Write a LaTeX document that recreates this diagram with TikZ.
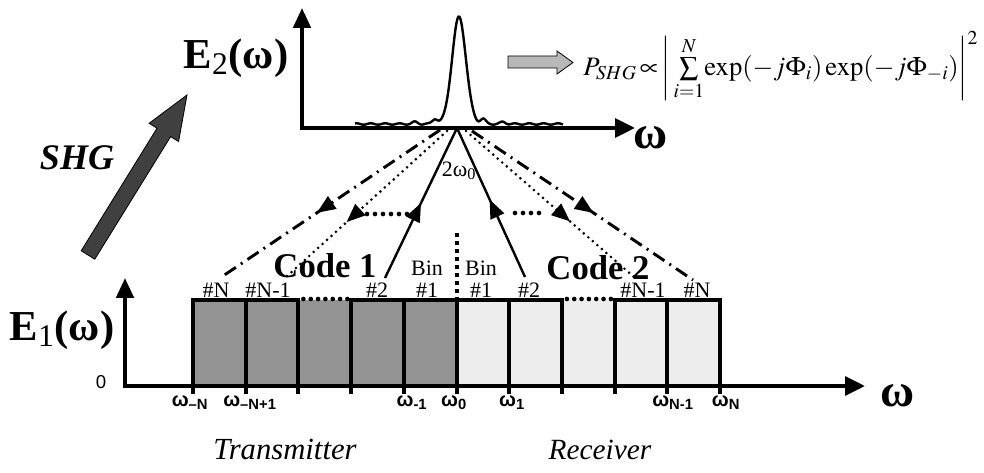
\documentclass[tikz,border=0pt]{standalone}
\usepackage{mathptmx}
\usepackage{fontspec}
\setmainfont{Liberation Serif}
\newfontfamily\arialfont{Liberation Sans}
\usetikzlibrary{positioning,arrows.meta,calc,decorations.markings}

\begin{document}
\begin{tikzpicture}[x=0.75pt,y=-0.75pt,
axis/.style={line width=3pt,line join=miter,{Triangle[length=15pt,width=13pt]}-{Triangle[length=15pt,width=14pt]}},
binedge/.style={line width=3pt,line cap=rect},
bindots/.style={line width=3.5pt,line cap=round,dash pattern=on 0pt off 5.5pt},
darkbin/.style={fill=black!42},
lightbin/.style={fill=black!7},
binlbl/.style={font=\fontsize{16.5}{16.5}\selectfont,inner sep=0pt},
wlbl/.style={font=\arialfont\bfseries\fontsize{15}{15}\selectfont,inner sep=0pt,anchor=north},
big/.style={font=\bfseries\fontsize{32}{32}\selectfont,inner sep=0pt},
code/.style={font=\bfseries\fontsize{26}{26}\selectfont,inner sep=0pt},
side/.style={font=\itshape\fontsize{22}{22}\selectfont,inner sep=0pt},
ray/.style={line width=1.8pt},
dotline/.style={line width=2.2pt,line cap=round,dash pattern=on 0pt off 4.5pt},
dashdot/.style={line width=2.2pt,dash pattern=on 10pt off 4.5pt on 1.5pt off 4.5pt},
hdots/.style={line width=3.5pt,line cap=round,dash pattern=on 0pt off 6pt},
midarrow/.style={postaction={decorate},decoration={markings,
  mark=at position #1 with {\arrow{Triangle[length=14pt,width=11pt]}}}}]
\useasboundingbox (0,0) rectangle (984,473);

% input spectrum
\foreach \k in {0,...,4} \fill[darkbin] ({193+52.7*\k},300) rectangle ++(52.7,86);
\foreach \k in {5,...,9} \fill[lightbin] ({193+52.7*\k},300) rectangle ++(52.7,86);
\foreach \k in {0,1,3,4,5,6,8,9} \draw[binedge] ({193+52.7*\k},300) -- ++(52.7,0);
\foreach \k in {2,7} \draw[bindots] ({193+52.7*\k+5},299) -- ++(44,0);
\foreach \k in {0,...,10} \draw[binedge] ({193+52.7*\k},300) -- ++(0,92);
\draw[line width=3pt,dash pattern=on 3pt off 3pt] (456.5,233) -- (456.5,300);
\draw[axis] (125,278) -- (125,386) -- (865,386);

\node[big] (e1) at (62,330) {E\textsubscript{\mdseries 1}(ω)};
\node[font=\arialfont\fontsize{14}{14}\selectfont,inner sep=0pt] (zero) at (101,382) {0};
\node[big,font=\bfseries\fontsize{35}{35}\selectfont] (wbot) at (898,396) {ω};

\node[binlbl] (nL) at (216,290) {\#N};
\node[binlbl] (n1L) at (268,290) {\#N-1};
\node[binlbl] (twoL) at (377,290) {\#2};
\node[binlbl] (oneL) at (427,290) {\#1};
\node[binlbl,above=5pt of oneL] (binL) {Bin};
\node[binlbl] (oneR) at (481,290) {\#1};
\node[binlbl,above=5pt of oneR] (binR) {Bin};
\node[binlbl] (twoR) at (529,290) {\#2};
\node[binlbl] (n1R) at (643,290) {\#N-1};
\node[binlbl] (nR) at (697,290) {\#N};

\node[wlbl] (wmN) at (190,395) {ω\textsubscript{–N}};
\node[wlbl] (wmN1) at (250,395) {ω\textsubscript{–N+1}};
\node[wlbl] (wm1) at (412,395) {ω\textsubscript{-1}};
\node[wlbl] (w0) at (454,395) {ω\textsubscript{0}};
\node[wlbl] (w1) at (512,395) {ω\textsubscript{1}};
\node[wlbl] (wN1) at (673,395) {ω\textsubscript{N-1}};
\node[wlbl] (wN) at (726,395) {ω\textsubscript{N}};

\node[side,font=\itshape\fontsize{23}{23}\selectfont] (tx) at (285,450) {Transmitter};
\node[side] (rx) at (600,450) {Receiver};
\node[code] (code1) at (325,266) {Code 1};
\node[code] (code2) at (598,268) {Code 2};

% SHG spectrum
\draw[axis] (302,8) -- (302,128) -- (635,128);
\draw[line width=1.8pt] plot[smooth,domain=355:563,samples=220]
  (\x,{124-107*exp(max(-((\x-459)^2)/98,-9))-5*exp(max(-((abs(\x-459)-24)^2)/14,-9))
   -2*exp(max(-((abs(\x-459)-44)^2)/14,-9))+0.7*sin(25*\x)});
\node[big] (e2) at (236,58) {E\textsubscript{\mdseries 2}(ω)};
\node[big,font=\bfseries\fontsize{35}{35}\selectfont] (wtop) at (651,138) {ω};
\node[binlbl] (two0) at (459,171) {2ω\textsubscript{0}};

\draw[fill=black!28,line width=0.6pt] (508,56) -- (557,56) -- (557,51) -- (573,62.5)
  -- (557,74) -- (557,68) -- (508,68) -- cycle;
\node[inner sep=0pt,anchor=west,font=\fontsize{20}{20}\selectfont] (psh) at (583,66)
  {$P_{SHG}\!\propto\!\left|\,\sum\limits_{i=1}^{N}\!\exp(-j\Phi_i)\exp(-j\Phi_{-i})\right|^2$};

% SHG arrow
\coordinate (st) at (88,255);
\coordinate (sh) at (187,95);
\coordinate (hb) at ($(sh)!33pt!(st)$);
\draw[fill=black!75,line width=0.6pt] ($(st)!6pt!90:(sh)$) -- ($(hb)!6pt!90:(sh)$)
  -- ($(hb)!13pt!90:(sh)$) -- (sh) -- ($(hb)!13pt!-90:(sh)$) -- ($(hb)!6pt!-90:(sh)$)
  -- ($(st)!6pt!-90:(sh)$) -- cycle;
\node[font=\bfseries\itshape\fontsize{27}{27}\selectfont,inner sep=0pt] (shg) at (77,158) {SHG};

% frequency pairs
\coordinate (apS) at (457,128);
\coordinate (apDL) at (447,131);
\coordinate (apCL) at (440,130);
\coordinate (apDR) at (466,131);
\coordinate (apCR) at (472,131);
\coordinate (fsL) at (385,278);
\coordinate (fsR) at (525,277);
\coordinate (fdL) at (285,278);
\coordinate (fdR) at (634,277);
\coordinate (fcL) at (220,278);
\coordinate (fcR) at (693,280);
\draw[ray,midarrow=0.5] (fsL) -- (apS);
\draw[ray,midarrow=0.52] (fsR) -- (apS);
\draw[dotline,midarrow=0.62] (apDL) -- (fdL);
\draw[dotline,midarrow=0.62] (apDR) -- (fdR);
\draw[dashdot,midarrow=0.56] (apCL) -- (fcL);
\draw[dashdot,midarrow=0.55] (apCR) -- (fcR);
\coordinate (hL1) at (367,214);
\coordinate (hL2) at (408,214);
\coordinate (hR1) at (515,213);
\coordinate (hR2) at (547,213);
\draw[hdots] (hL1) -- (hL2);
\draw[hdots] (hR1) -- (hR2);
\end{tikzpicture}
\end{document}
